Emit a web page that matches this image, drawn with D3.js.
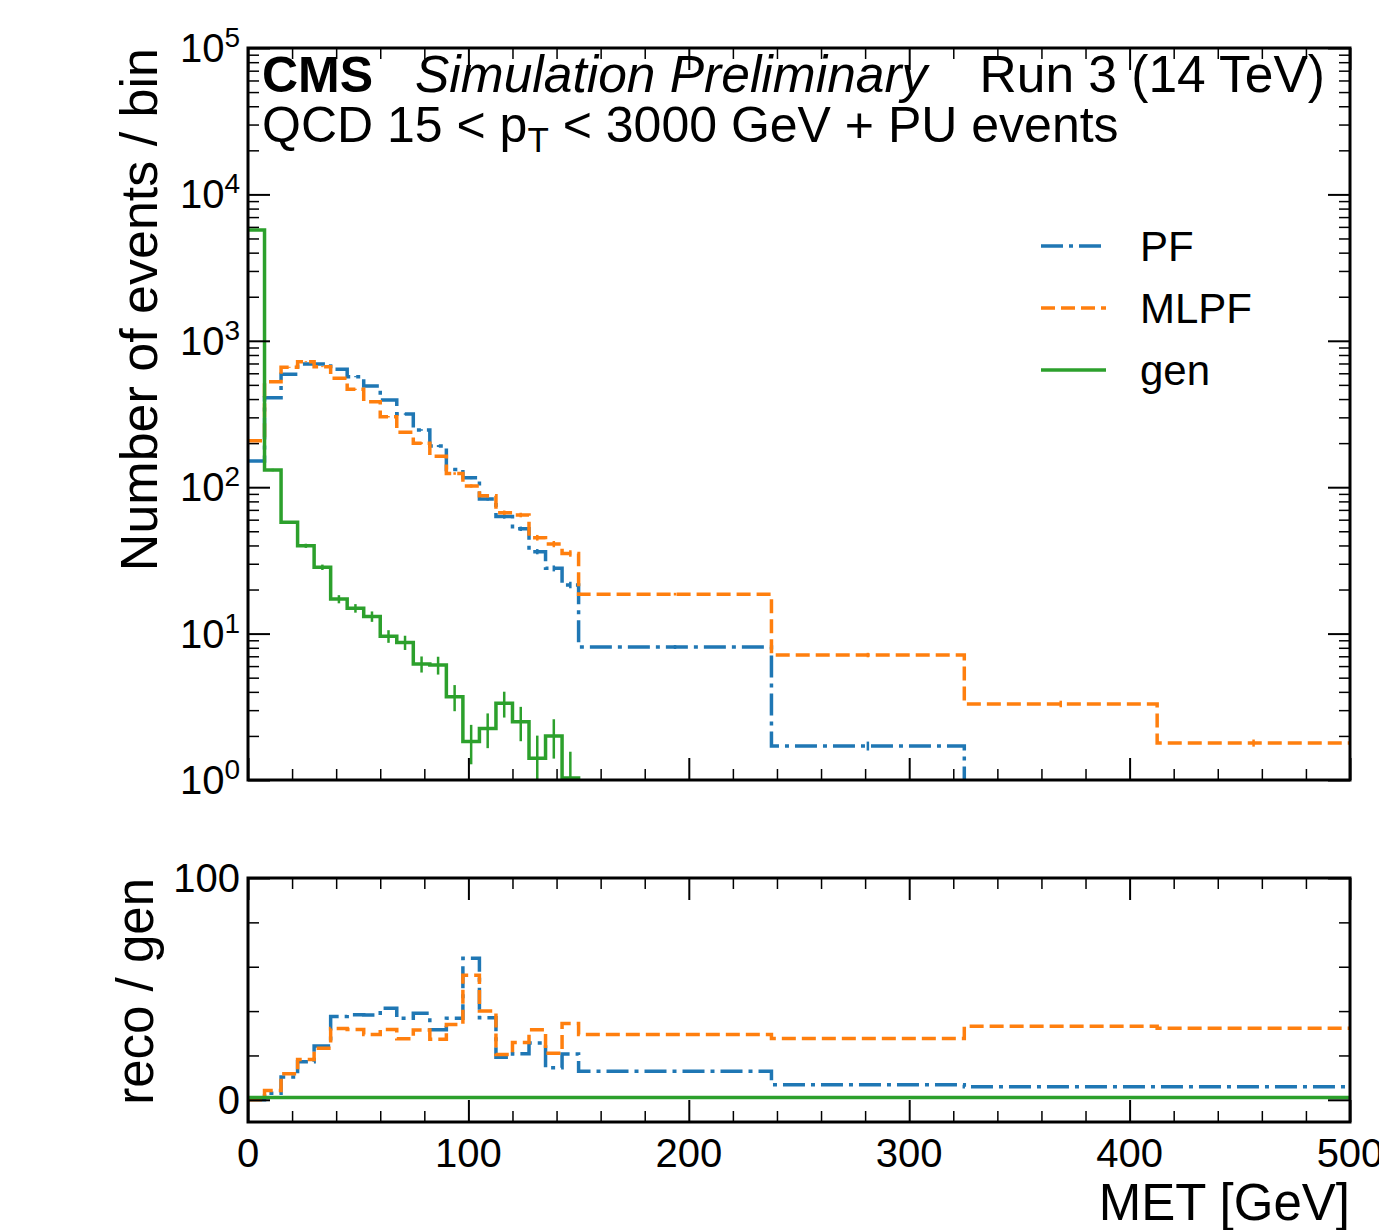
<!DOCTYPE html>
<html>
<head>
<meta charset="utf-8">
<script src="https://cdn.jsdelivr.net/npm/d3@7"></script>
<style>
  body { margin: 0; background: #fff; }
  text { font-family: "Liberation Sans", Arial, Helvetica, sans-serif; fill: #000; }
</style>
</head>
<body>
<svg id="chart" width="1379" height="1230"></svg>
<script>
// bin edges in GeV (20 fine bins up to 150, then 4 wide bins)
const binEdges = [0, 7.5, 15, 22.5, 30, 37.5, 45, 52.5, 60, 67.5, 75, 82.5, 90, 97.5,
                  105, 112.5, 120, 127.5, 135, 142.5, 150, 237.5, 325, 412.5, 500];

// events per bin
const pfCounts   = [151, 408, 590, 695, 695, 638, 569, 491, 394, 316, 246, 191, 132, 116,
                    83, 63, 52, 36.3, 27.9, 21.5, 8.1, 1.71, 0, 0];
const mlpfCounts = [208, 526, 659, 720, 666, 555, 466, 384, 303, 237, 200, 163, 124, 102,
                    87.5, 67, 64.6, 45.2, 40.9, 35.3, 18.6, 7.14, 3.31, 1.79];
const genCounts  = [5710, 131, 57.6, 39.8, 28.4, 17.2, 14.9, 13.1, 9.6, 8.7, 6.2, 6.1, 3.7, 1.83,
                    2.25, 3.34, 2.5, 1.41, 2.0, 1.03, 0, 0, 0, 0];

// stat errors
const pfErr   = [2, 4, 5, 5, 5, 5, 5, 4.5, 4, 3.5, 3, 3, 2.5, 2.5, 2, 2, 1.8, 1.5, 1.3, 1.1, 0.25, 0.12, 0, 0];
const mlpfErr = [2.5, 4.5, 5, 5, 5, 5, 4.5, 4, 3.5, 3.2, 3, 3, 2.5, 2.5, 2.3, 2.3, 2.3, 2, 2, 1.8, 0.4, 0.25, 0.17, 0.1];
const genErr  = [8, 2.5, 0.9, 1.3, 1.2, 1.1, 1.0, 1.07, 0.95, 0.97, 0.78, 0.85, 0.75, 0.55,
                 0.6, 0.67, 0.66, 0.6, 0.6, 0.53, 0, 0, 0, 0];

// ratio panel (reco / gen)
const pfRatio   = [0.03, 3.0, 10.3, 17.2, 24.3, 37.6, 38.4, 38.2, 41.3, 36.8, 39.0, 31.6, 36.8, 63.8,
                   37.0, 19.2, 20.8, 25.6, 14.5, 20.6, 12.9, 6.8, 5.9, 5.9];
const mlpfRatio = [0.04, 4.2, 11.7, 18.2, 23.2, 32.2, 31.7, 29.5, 31.7, 27.5, 31.5, 27.3, 34.0, 56.2,
                   40.0, 20.4, 25.8, 31.6, 21.0, 34.4, 29.5, 27.7, 33.2, 32.3];
const genRatio  = [1, 1, 1, 1, 1, 1, 1, 1, 1, 1, 1, 1, 1, 1, 1, 1, 1, 1, 1, 1, 1, 1, 1, 1];

const xMajor = [0, 100, 200, 300, 400, 500];
const yLogMajor = [1, 10, 100, 1000, 10000, 100000];
const ratioMajor = [0, 100];
const ratioMinor = [20, 40, 60, 80];

const svg = d3.select("#chart");

const left = 248, right = 1350;
const top1 = 48, bot1 = 780;
const top2 = 878, bot2 = 1122;

let x = d3.scaleLinear().domain([0, 500]).range([left, right]);
let yTop = d3.scaleLog().domain([1, 1e5]).range([bot1, top1]);
let yBot = d3.scaleLinear().domain([-10, 100]).range([bot2, top2]);

let xMinor = d3.range(0, 501, 20).filter(d => d % 100 !== 0);
let yLogMinor = [];
yLogMajor.slice(0, -1).forEach(p => { for (let k = 2; k < 10; k++) yLogMinor.push(p * k); });

// clip paths
let defs = svg.append("defs");
defs.append("clipPath").attr("id", "clipTop").append("rect")
  .attr("x", left).attr("y", top1).attr("width", right - left).attr("height", bot1 - top1);
defs.append("clipPath").attr("id", "clipBot").append("rect")
  .attr("x", left).attr("y", top2).attr("width", right - left).attr("height", bot2 - top2);

const series = [
  {name: "PF",   color: "#1f77b4", dash: "22,6,4,6", counts: pfCounts,   err: pfErr,   ratio: pfRatio},
  {name: "MLPF", color: "#ff7f0e", dash: "14,6",     counts: mlpfCounts, err: mlpfErr, ratio: mlpfRatio},
  {name: "gen",  color: "#2ca02c", dash: null,       counts: genCounts,  err: genErr,  ratio: genRatio}
];

function yLogSafe(v) { return v > 0 ? yTop(v) : bot1 + 20; }

function stepPath(vals, yf) {
  let pts = [];
  vals.forEach((v, i) => {
    pts.push([x(binEdges[i]), yf(v)]);
    pts.push([x(binEdges[i + 1]), yf(v)]);
  });
  return d3.line()(pts);
}

// ---- top panel ----
let gTop = svg.append("g").attr("clip-path", "url(#clipTop)");
series.forEach(s => {
  gTop.append("path")
    .attr("d", stepPath(s.counts, yLogSafe))
    .attr("fill", "none")
    .attr("stroke", s.color)
    .attr("stroke-width", 3.5)
    .attr("stroke-dasharray", s.dash);

  gTop.selectAll(null)
    .data(s.counts.map((v, i) => ({v: v, e: s.err[i], i: i})).filter(d => d.v > 0 && d.e > 0))
    .enter().append("line")
    .attr("x1", d => x((binEdges[d.i] + binEdges[d.i + 1]) / 2))
    .attr("x2", d => x((binEdges[d.i] + binEdges[d.i + 1]) / 2))
    .attr("y1", d => yLogSafe(d.v - d.e))
    .attr("y2", d => yTop(d.v + d.e))
    .attr("stroke", s.color)
    .attr("stroke-width", 2.5);
});

// ---- ratio panel ----
let gBot = svg.append("g").attr("clip-path", "url(#clipBot)");
series.forEach(s => {
  gBot.append("path")
    .attr("d", stepPath(s.ratio, v => yBot(v)))
    .attr("fill", "none")
    .attr("stroke", s.color)
    .attr("stroke-width", 3.5)
    .attr("stroke-dasharray", s.dash);
});

// ---- ticks (inward, all four sides) ----
function ticks(axisFn, scale, values, size, transform, width) {
  let g = svg.append("g")
    .attr("transform", transform)
    .call(axisFn(scale).tickValues(values).tickSize(-size).tickFormat(""));
  g.select(".domain").remove();
  g.selectAll("line").attr("stroke", "#000").attr("stroke-width", width);
}

[[top1, bot1], [top2, bot2]].forEach(([t, b]) => {
  ticks(d3.axisBottom, x, xMajor, 22, `translate(0,${b})`, 2);
  ticks(d3.axisBottom, x, xMinor, 11, `translate(0,${b})`, 1.5);
  ticks(d3.axisTop, x, xMajor, 22, `translate(0,${t})`, 2);
  ticks(d3.axisTop, x, xMinor, 11, `translate(0,${t})`, 1.5);
});
ticks(d3.axisLeft, yTop, yLogMajor, 22, `translate(${left},0)`, 2);
ticks(d3.axisLeft, yTop, yLogMinor, 11, `translate(${left},0)`, 1.5);
ticks(d3.axisRight, yTop, yLogMajor, 22, `translate(${right},0)`, 2);
ticks(d3.axisRight, yTop, yLogMinor, 11, `translate(${right},0)`, 1.5);
ticks(d3.axisLeft, yBot, ratioMajor, 22, `translate(${left},0)`, 2);
ticks(d3.axisLeft, yBot, ratioMinor, 11, `translate(${left},0)`, 1.5);
ticks(d3.axisRight, yBot, ratioMajor, 22, `translate(${right},0)`, 2);
ticks(d3.axisRight, yBot, ratioMinor, 11, `translate(${right},0)`, 1.5);

// frames
[[top1, bot1], [top2, bot2]].forEach(([t, b]) => {
  svg.append("rect")
    .attr("x", left).attr("y", t).attr("width", right - left).attr("height", b - t)
    .attr("fill", "none").attr("stroke", "#000").attr("stroke-width", 3);
});

// ---- tick labels ----
let yLab = svg.selectAll(null).data(yLogMajor).enter().append("text")
  .attr("x", 240)
  .attr("y", d => yTop(d) + 14)
  .attr("text-anchor", "end")
  .style("font-size", "40px");
yLab.append("tspan").text("10");
yLab.append("tspan")
  .attr("dy", -15)
  .style("font-size", "28px")
  .text(d => Math.round(Math.log10(d)));

svg.selectAll(null).data(ratioMajor).enter().append("text")
  .attr("x", 240)
  .attr("y", d => yBot(d) + 14)
  .attr("text-anchor", "end")
  .style("font-size", "40px")
  .text(d => d);

svg.selectAll(null).data(xMajor).enter().append("text")
  .attr("x", d => x(d))
  .attr("y", 1167)
  .attr("text-anchor", "middle")
  .style("font-size", "40px")
  .text(d => d);

// ---- axis titles ----
svg.append("text")
  .attr("transform", `translate(157,${top1}) rotate(-90)`)
  .attr("text-anchor", "end")
  .style("font-size", "52px")
  .text("Number of events / bin");

svg.append("text")
  .attr("transform", `translate(153,${top2}) rotate(-90)`)
  .attr("text-anchor", "end")
  .style("font-size", "51px")
  .text("reco / gen");

svg.append("text")
  .attr("x", right)
  .attr("y", 1220)
  .attr("text-anchor", "end")
  .style("font-size", "51px")
  .text("MET [GeV]");

// ---- header ----
svg.append("text")
  .attr("x", 262).attr("y", 92)
  .style("font-size", "50px").style("font-weight", "bold")
  .text("CMS");
svg.append("text")
  .attr("x", 415).attr("y", 92)
  .style("font-size", "51.5px").style("font-style", "italic")
  .text("Simulation Preliminary");
svg.append("text")
  .attr("x", 1325).attr("y", 92)
  .attr("text-anchor", "end")
  .style("font-size", "51.5px")
  .text("Run 3 (14 TeV)");

let sub = svg.append("text")
  .attr("x", 262).attr("y", 142)
  .style("font-size", "50px");
sub.append("tspan").text("QCD 15 < p");
sub.append("tspan").attr("dy", 10).style("font-size", "35px").text("T");
sub.append("tspan").attr("dy", -10).text(" < 3000 GeV + PU events");

// ---- legend ----
let leg = svg.selectAll(null).data(series).enter().append("g")
  .attr("transform", (d, i) => `translate(1041,${246 + i * 62})`);
leg.append("line")
  .attr("x1", 0).attr("x2", 65)
  .attr("stroke", d => d.color)
  .attr("stroke-width", 3.5)
  .attr("stroke-dasharray", d => d.dash);
leg.append("text")
  .attr("x", 99).attr("y", 15)
  .style("font-size", "42px")
  .text(d => d.name);
</script>
</body>
</html>
